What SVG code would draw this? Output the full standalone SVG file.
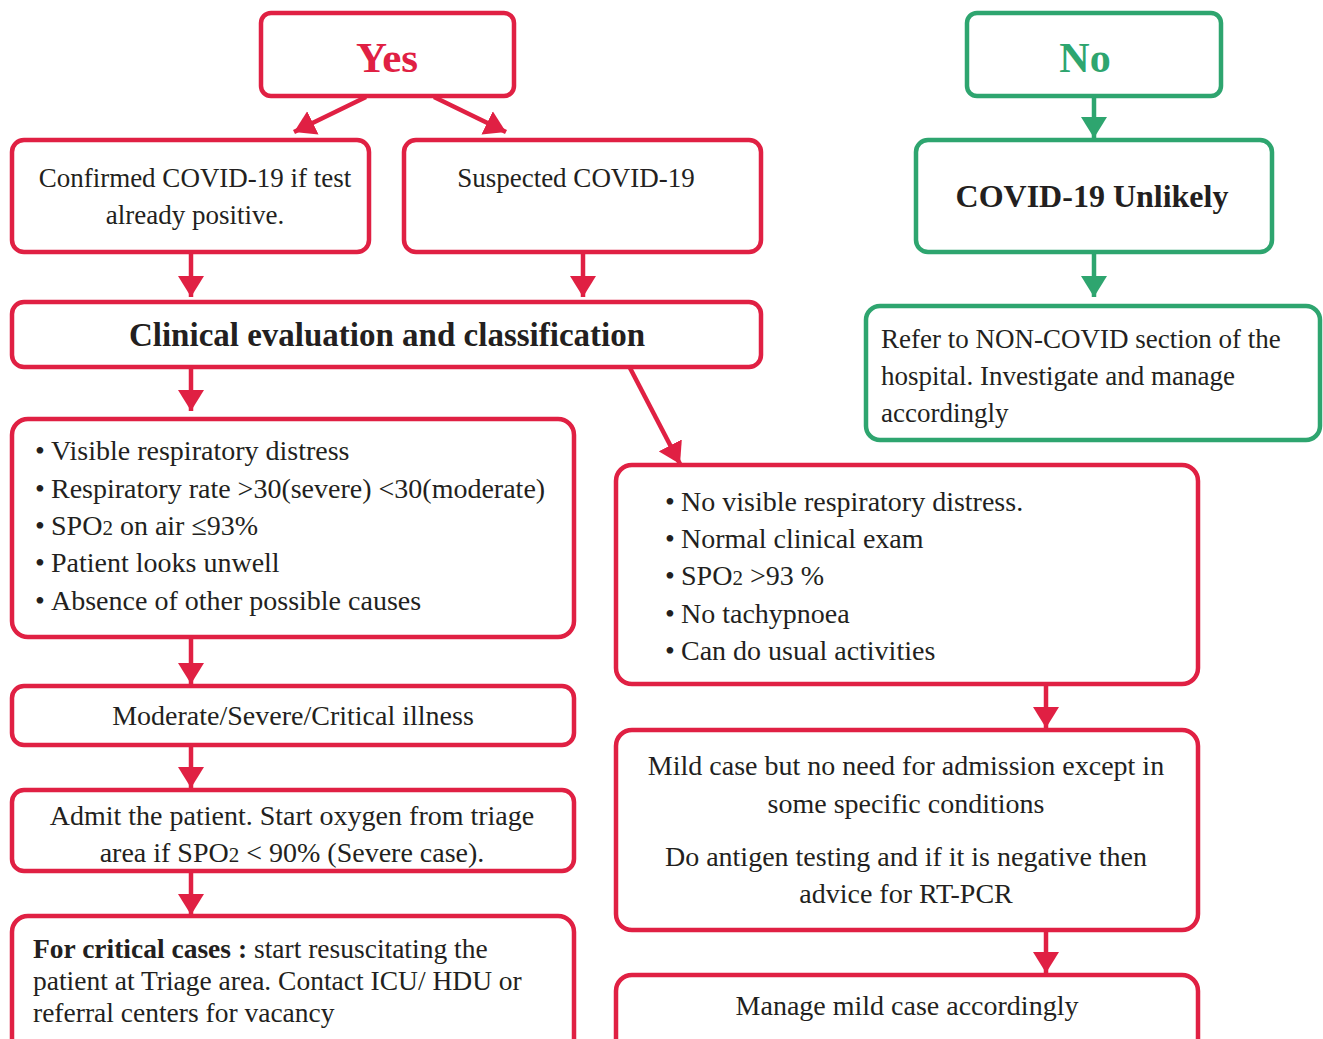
<svg xmlns="http://www.w3.org/2000/svg" width="1323" height="1039" viewBox="0 0 1323 1039">
<style>
.r{fill:#fff;stroke:#E02043;stroke-width:4.5}
.g{fill:#fff;stroke:#2EA56F;stroke-width:4.5}
.t{font-family:"Liberation Serif","DejaVu Serif",serif;font-size:28px;fill:#231F20}
.c{text-anchor:middle}
.b{font-weight:bold}
.h{font-size:33px}
.s{font-size:21px}
.cr{stroke:#E02043;stroke-width:4.5;fill:none}
.cg{stroke:#2EA56F;stroke-width:4.5;fill:none}
</style>
<defs>
<marker id="ar" markerUnits="userSpaceOnUse" markerWidth="24" markerHeight="26" refX="21" refY="13" orient="auto" viewBox="0 0 24 26"><path d="M0,0 L21,13 L0,26 Z" fill="#E02043"/></marker>
<marker id="ag" markerUnits="userSpaceOnUse" markerWidth="24" markerHeight="26" refX="21" refY="13" orient="auto" viewBox="0 0 24 26"><path d="M0,0 L21,13 L0,26 Z" fill="#2EA56F"/></marker>
</defs>
<rect width="1323" height="1039" fill="#fff"/>
<g id="connectors">
<line class="cr" x1="366" y1="97" x2="294" y2="132" marker-end="url(#ar)"/>
<line class="cr" x1="434" y1="97" x2="506" y2="132" marker-end="url(#ar)"/>
<line class="cr" x1="191" y1="252" x2="191" y2="297" marker-end="url(#ar)"/>
<line class="cr" x1="583" y1="252" x2="583" y2="297" marker-end="url(#ar)"/>
<line class="cg" x1="1094" y1="96" x2="1094" y2="138" marker-end="url(#ag)"/>
<line class="cg" x1="1094" y1="252" x2="1094" y2="297" marker-end="url(#ag)"/>
<line class="cr" x1="191" y1="367" x2="191" y2="411" marker-end="url(#ar)"/>
<line class="cr" x1="630" y1="368" x2="680" y2="464" marker-end="url(#ar)"/>
<line class="cr" x1="191" y1="637" x2="191" y2="684" marker-end="url(#ar)"/>
<line class="cr" x1="191" y1="745" x2="191" y2="788" marker-end="url(#ar)"/>
<line class="cr" x1="191" y1="871" x2="191" y2="915" marker-end="url(#ar)"/>
<line class="cr" x1="1046" y1="684" x2="1046" y2="728" marker-end="url(#ar)"/>
<line class="cr" x1="1046" y1="930" x2="1046" y2="973" marker-end="url(#ar)"/>
</g>
<g id="yes"><rect class="r" x="261" y="13" width="253" height="83" rx="10"/><text class="t c b" x="387" y="72" style="font-size:43px;fill:#E02043">Yes</text></g>
<g id="no"><rect class="g" x="967" y="13" width="254" height="83" rx="10"/><text class="t c b" x="1085" y="72" style="font-size:42px;fill:#2EA56F">No</text></g>
<g id="confirmed"><rect class="r" x="12" y="140" width="357" height="112" rx="12"/><text class="t c" x="195" y="187" style="font-size:27px">Confirmed COVID-19 if test</text><text class="t c" x="195" y="224" style="font-size:27px">already positive.</text></g>
<g id="suspected"><rect class="r" x="404" y="140" width="357" height="112" rx="12"/><text class="t c" x="576" y="187" style="font-size:27px">Suspected COVID-19</text></g>
<g id="unlikely"><rect class="g" x="916" y="140" width="356" height="112" rx="12"/><text class="t c b" x="1092" y="207" style="font-size:32px">COVID-19 Unlikely</text></g>
<g id="clinical"><rect class="r" x="12" y="302" width="749" height="65" rx="12"/><text class="t c b h" x="387" y="346">Clinical evaluation and classification</text></g>
<g id="refer"><rect class="g" x="866" y="306" width="454" height="134" rx="14"/><text class="t" x="881" y="348" style="font-size:27px">Refer to NON-COVID section of the</text><text class="t" x="881" y="385" style="font-size:27px">hospital. Investigate and manage</text><text class="t" x="881" y="422" style="font-size:27px">accordingly</text></g>
<g id="severe-signs"><rect class="r" x="12" y="419" width="562" height="218" rx="16"/>
<text class="t" x="35" y="460">•<tspan x="51">Visible respiratory distress</tspan></text>
<text class="t" x="35" y="498">•<tspan x="51">Respiratory rate &gt;30(severe) &lt;30(moderate)</tspan></text>
<text class="t" x="35" y="535">•<tspan x="51">SPO</tspan><tspan class="s">2</tspan> on air ≤93%</text>
<text class="t" x="35" y="572">•<tspan x="51">Patient looks unwell</tspan></text>
<text class="t" x="35" y="610">•<tspan x="51">Absence of other possible causes</tspan></text></g>
<g id="mild-signs"><rect class="r" x="616" y="465" width="582" height="219" rx="16"/>
<text class="t" x="665" y="511">•<tspan x="681">No visible respiratory distress.</tspan></text>
<text class="t" x="665" y="548">•<tspan x="681">Normal clinical exam</tspan></text>
<text class="t" x="665" y="585">•<tspan x="681">SPO</tspan><tspan class="s">2</tspan> &gt;93 %</text>
<text class="t" x="665" y="623">•<tspan x="681">No tachypnoea</tspan></text>
<text class="t" x="665" y="660">•<tspan x="681">Can do usual activities</tspan></text></g>
<g id="moderate"><rect class="r" x="12" y="686" width="562" height="59" rx="12"/><text class="t c" x="293" y="725">Moderate/Severe/Critical illness</text></g>
<g id="admit"><rect class="r" x="12" y="790" width="562" height="81" rx="12"/><text class="t c" x="292" y="825">Admit the patient. Start oxygen from triage</text><text class="t c" x="292" y="862">area if SPO<tspan class="s">2</tspan> &lt; 90% (Severe case).</text></g>
<g id="critical"><rect class="r" x="12" y="916" width="562" height="140" rx="16"/><text class="t" x="33" y="958" style="font-size:27.5px"><tspan class="b">For critical cases :</tspan> start resuscitating the</text><text class="t" x="33" y="990" style="font-size:27.5px">patient at Triage area. Contact ICU/ HDU or</text><text class="t" x="33" y="1022" style="font-size:27.5px">referral centers for vacancy</text></g>
<g id="mild"><rect class="r" x="616" y="730" width="582" height="200" rx="16"/><text class="t c" x="906" y="775">Mild case but no need for admission except in</text><text class="t c" x="906" y="813">some specific conditions</text><text class="t c" x="906" y="866">Do antigen testing and if it is negative then</text><text class="t c" x="906" y="903">advice for RT-PCR</text></g>
<g id="manage"><rect class="r" x="616" y="975" width="582" height="80" rx="16"/><text class="t c" x="907" y="1015">Manage mild case accordingly</text></g>
</svg>
